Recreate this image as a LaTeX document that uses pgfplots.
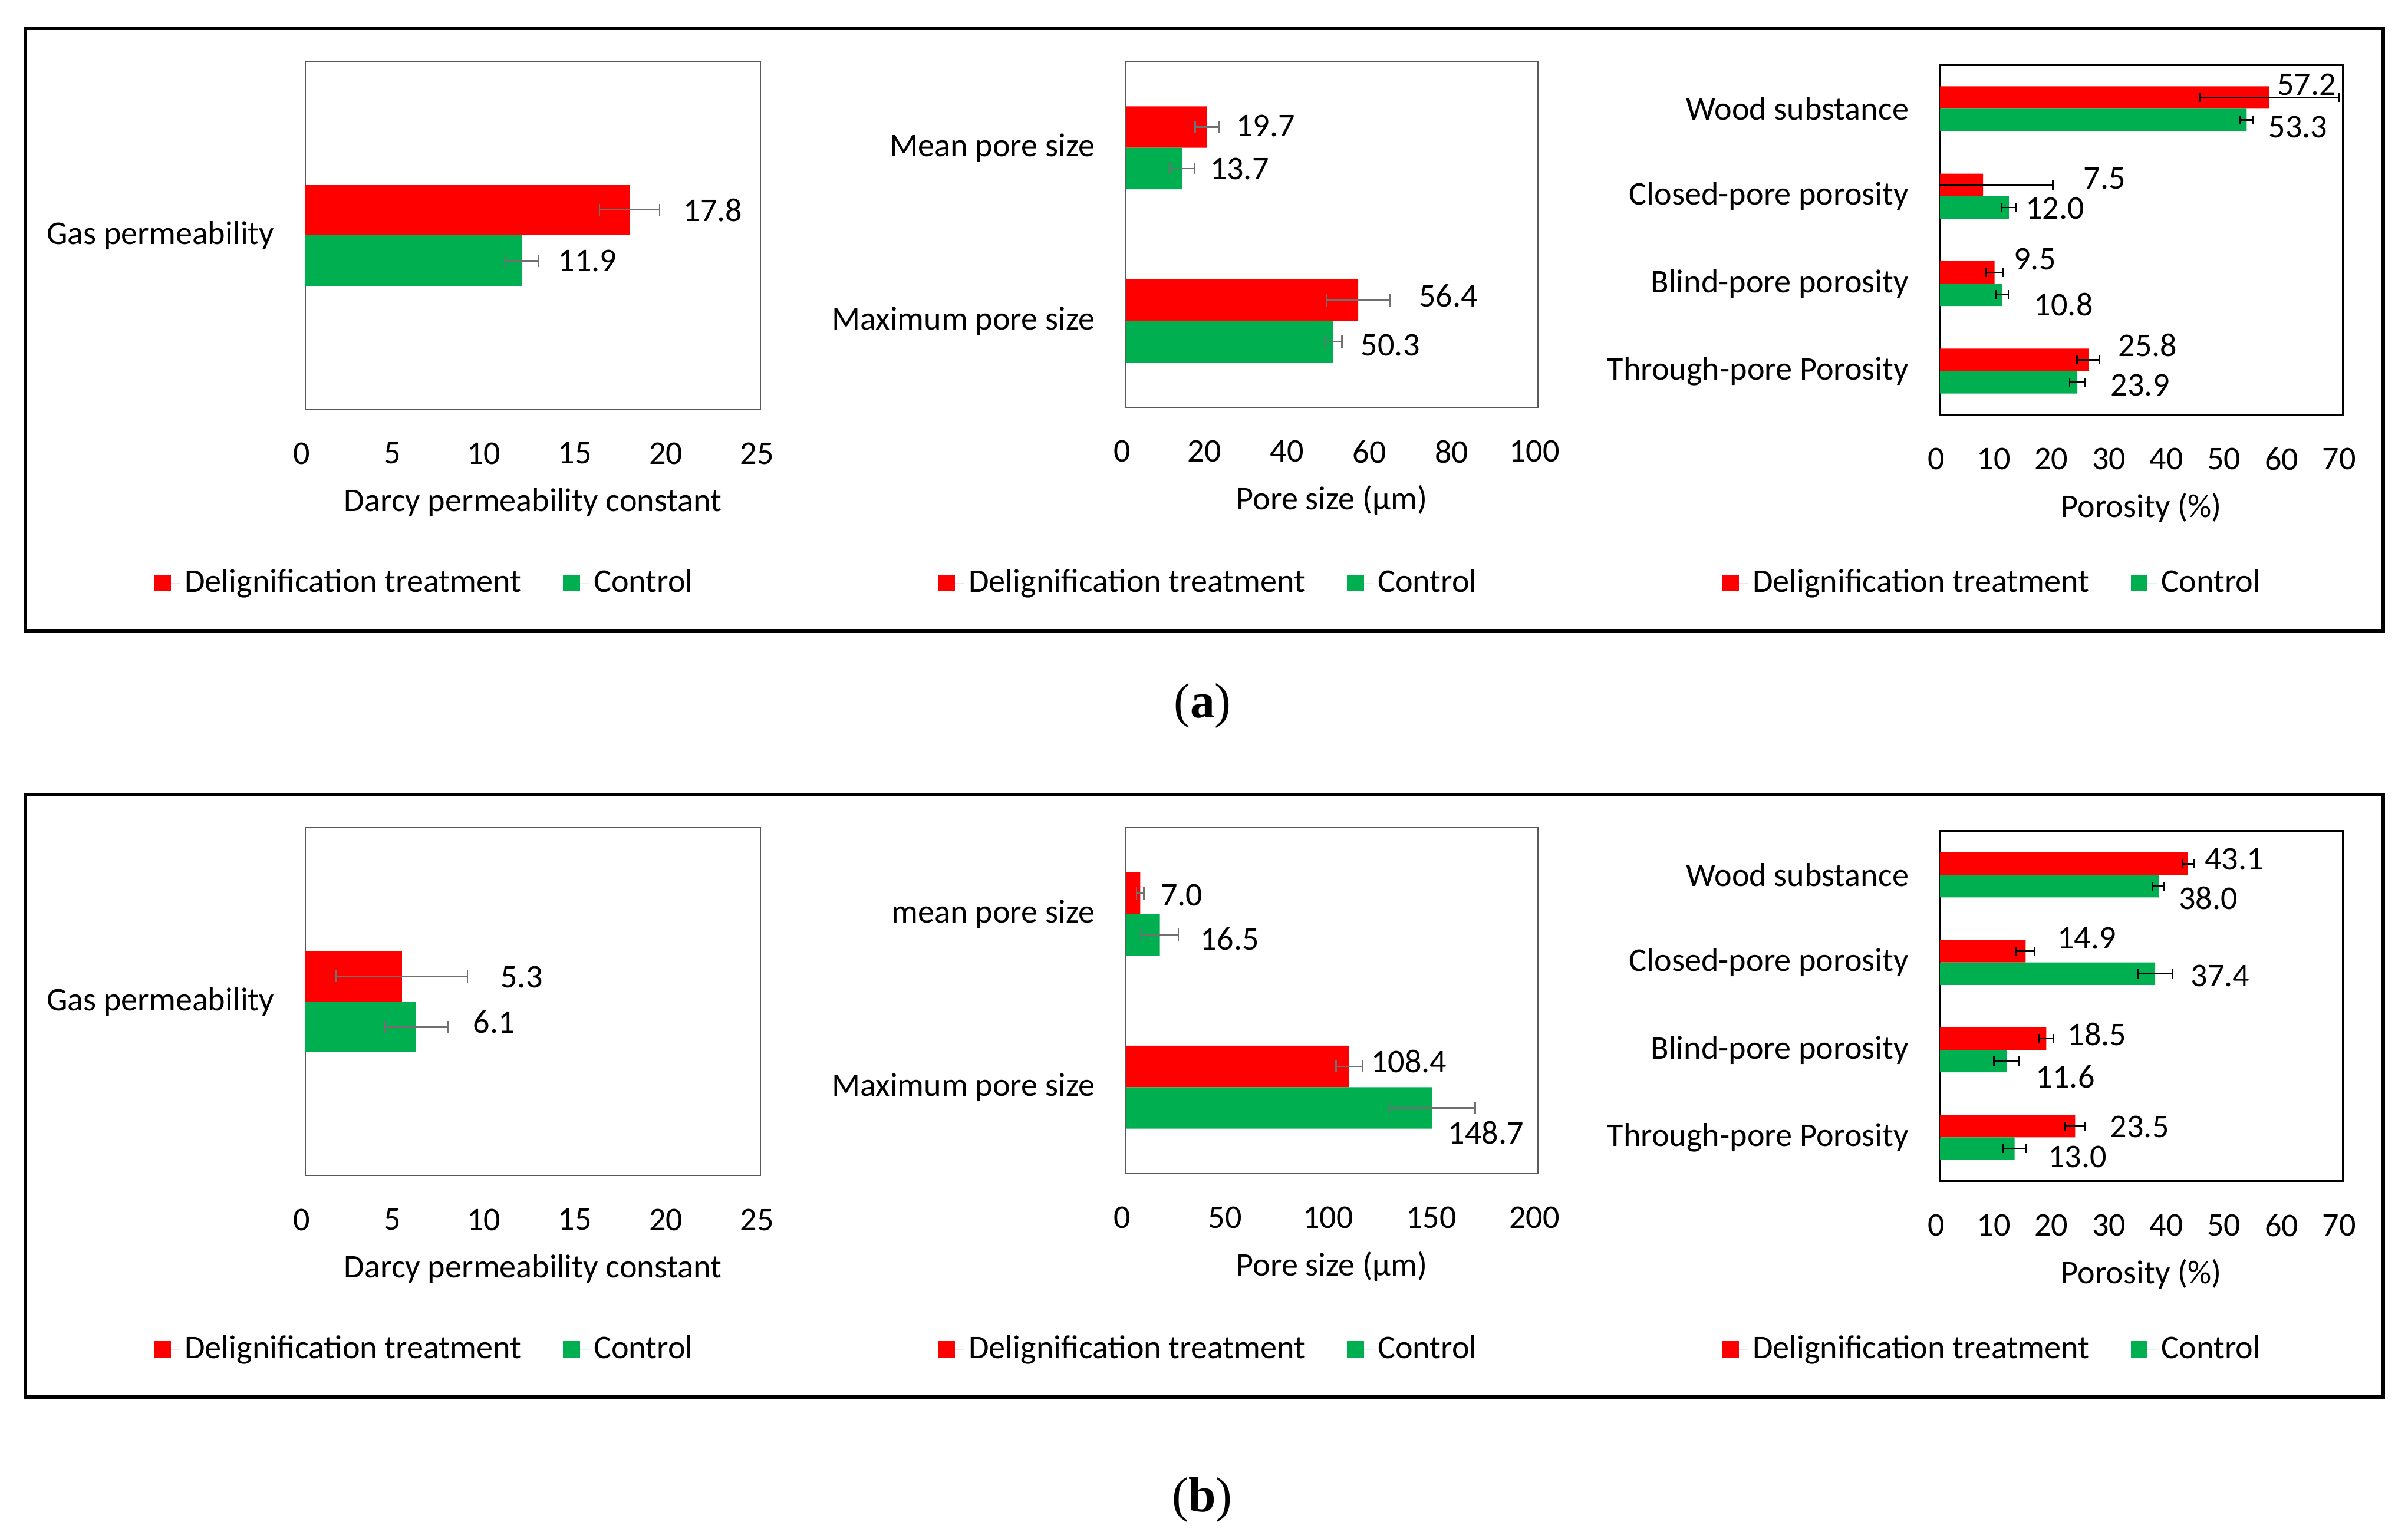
\documentclass[border=0pt]{standalone}
\usepackage{fontspec}
\setmainfont{Carlito}
\newfontfamily\capfont{Liberation Serif}
\usepackage{pgfplots}
\usepackage{pgfplotstable}
\pgfplotsset{compat=1.18}

\definecolor{dred}{HTML}{FF0000}
\definecolor{dgreen}{HTML}{00B050}
\definecolor{boxgray}{HTML}{595959}
\definecolor{errgray}{HTML}{707070}

% yr / yg: bar centre of the treatment / control bar of each category
% ---- row (a) ----
\pgfplotstableread{
yr yg red ered green egreen
0.073 -0.073 17.8 1.65 11.9 0.9
}\gasA
\pgfplotstableread{
lx ly lab
22.38 0.073 17.8
15.49 -0.073 11.9
}\gasAlab
\pgfplotstableread{
yr yg red ered green egreen
1.12 0.88 19.7 2.9 13.7 3.0
0.12 -0.12 56.4 7.7 50.3 2.1
}\poreA
\pgfplotstableread{
lx ly lab
33.9 1.127 19.7
27.6 0.877 13.7
78.3 0.144 56.4
64.2 -0.14 50.3
}\poreAlab
\pgfplotstableread{
yr yg red ered green egreen
3.1285 2.8715 57.2 12.1 53.3 1.1
2.1285 1.8715 7.5 12.1 12.0 1.25
1.1285 0.8715 9.5 1.5 10.8 1.1
0.1285 -0.1285 25.8 1.95 23.9 1.35
}\porosA
\pgfplotstableread{
lx ly lab
63.7 3.278 57.2
62.2 2.79 53.3
28.6 2.204 7.5
20.0 1.859 12.0
16.5 1.28 9.5
21.5 0.759 10.8
36.1 0.298 25.8
34.8 -0.16 23.9
}\porosAlab

% ---- row (b) ----
\pgfplotstableread{
yr yg red ered green egreen
0.073 -0.073 5.3 3.6 6.1 1.75
}\gasB
\pgfplotstableread{
lx ly lab
11.88 0.07 5.3
10.37 -0.058 6.1
}\gasBlab
\pgfplotstableread{
yr yg red ered green egreen
1.12 0.88 7.0 1.8 16.5 9.0
0.12 -0.12 108.4 6.3 148.7 20.8
}\poreB
\pgfplotstableread{
lx ly lab
27.2 1.11 7.0
50.4 0.857 16.5
137.4 0.149 108.4
174.8 -0.262 148.7
}\poreBlab
\pgfplotstableread{
yr yg red ered green egreen
3.1285 2.8715 43.1 1.0 38.0 1.0
2.1285 1.8715 14.9 1.6 37.4 3.0
1.1285 0.8715 18.5 1.25 11.6 2.2
0.1285 -0.1285 23.5 1.7 13.0 2.0
}\porosB
\pgfplotstableread{
lx ly lab
51.1 3.18 43.1
46.6 2.734 38.0
25.5 2.275 14.9
48.7 1.849 37.4
27.3 1.176 18.5
21.8 0.69 11.6
34.7 0.123 23.5
23.9 -0.22 13.0
}\porosBlab

\pgfplotsset{
  hchart/.style={
    scale only axis, anchor=south west, enlargelimits=false,
    xmin=0, ymin=-0.5, major tick length=0pt,
    /pgf/number format/assume math mode=true,
    xticklabel style={yshift=-7pt, xshift=-1.2pt},
    yticklabel style={xshift=-6.3pt},
    xlabel style={at={(axis description cs:0.5,0)}, anchor=center, yshift=-30.2pt},
    legend columns=2, legend cell align=left,
    legend style={draw=none, fill=none, inner xsep=0pt, inner ysep=0pt,
      nodes={inner sep=1.5pt}, at={(axis description cs:0,0)}, anchor=west,
      /tikz/every even column/.append style={column sep=12pt}},
  },
  thinbox/.style={axis line style={draw=boxgray, line width=0.4pt}},
  thickbox/.style={axis line style={draw=black, line width=0.7pt}},
  bars/.style n args={4}{xbar, fill=#1, draw=none, bar width=#2, bar shift=0,
    legend image code/.code={\fill[#1] (0pt,-2.75pt) rectangle (5.5pt,2.75pt);
      \path (0pt,0pt) -- (8.5pt,0pt);},
    /pgfplots/error bars/x dir=both, /pgfplots/error bars/x explicit,
    /pgfplots/error bars/error mark=|,
    /pgfplots/error bars/error bar style={draw=#3, line width=0.5pt},
    /pgfplots/error bars/error mark options={draw=#3, line width=0.5pt, mark size=#4}},
  labs/.style={draw=none, forget plot, nodes near coords, point meta=explicit symbolic,
    every node near coord/.append style={anchor=center, inner sep=0pt}},
}

\begin{document}
\fontsize{10.75}{12.9}\selectfont
\begin{tikzpicture}
\useasboundingbox (0pt,0pt) rectangle (782pt,498.3pt);
\draw[line width=1.2pt] (8.2pt,293.5pt) rectangle (774pt,489.15pt);
\draw[line width=1.2pt] (8.2pt,44.65pt) rectangle (774pt,240.3pt);
\node[anchor=base, font=\capfont\fontsize{16}{19}\selectfont] at (390.5pt,265.3pt) {(\textbf{a})};
\node[anchor=base, font=\capfont\fontsize{16}{19}\selectfont] at (390.4pt,7.3pt) {(\textbf{b})};

% (a) gas permeability
\begin{axis}[hchart, thinbox, at={(99.15pt,365.35pt)}, width=147.85pt, height=113.05pt,
  xmax=25, xtick={0,5,...,25}, ymax=0.5, ytick={0}, yticklabels={Gas permeability},
  xlabel={Darcy permeability constant},
  legend style={xshift=-49.35pt, yshift=-56.4pt}]
\addplot[bars={dred}{0.146}{errgray}{2pt}] table[x=red, y=yr, x error=ered] \gasA;
\addlegendentry{Delignification treatment}
\addplot[bars={dgreen}{0.146}{errgray}{2pt}] table[x=green, y=yg, x error=egreen] \gasA;
\addlegendentry{Control}
\addplot[labs] table[x=lx, y=ly, meta=lab] \gasAlab;
\end{axis}

% (a) pore size
\begin{axis}[hchart, thinbox, at={(365.6pt,366.0pt)}, width=133.85pt, height=112.4pt,
  xmax=100, xtick={0,20,...,100}, ymax=1.5, ytick={0,1},
  yticklabels={Maximum pore size, Mean pore size},
  xlabel={Pore size (µm)},
  legend style={xshift=-61.2pt, yshift=-57.05pt}]
\addplot[bars={dred}{0.24}{errgray}{2pt}] table[x=red, y=yr, x error=ered] \poreA;
\addlegendentry{Delignification treatment}
\addplot[bars={dgreen}{0.24}{errgray}{2pt}] table[x=green, y=yg, x error=egreen] \poreA;
\addlegendentry{Control}
\addplot[labs] table[x=lx, y=ly, meta=lab] \poreAlab;
\end{axis}

% (a) porosity
\begin{axis}[hchart, thickbox, at={(629.95pt,363.6pt)}, width=130.9pt, height=113.6pt,
  xmax=70, xtick={0,10,...,70}, ymax=3.5, ytick={0,1,2,3},
  yticklabels={Through-pore Porosity, Blind-pore porosity, Closed-pore porosity, Wood substance},
  xlabel={Porosity (\%)},
  legend style={xshift=-71pt, yshift=-54.65pt}]
\addplot[bars={dred}{0.257}{black}{1.5pt}] table[x=red, y=yr, x error=ered] \porosA;
\addlegendentry{Delignification treatment}
\addplot[bars={dgreen}{0.257}{black}{1.5pt}] table[x=green, y=yg, x error=egreen] \porosA;
\addlegendentry{Control}
\addplot[labs] table[x=lx, y=ly, meta=lab] \porosAlab;
\end{axis}

% (b) gas permeability
\begin{axis}[hchart, thinbox, at={(99.15pt,116.5pt)}, width=147.85pt, height=113.05pt,
  xmax=25, xtick={0,5,...,25}, ymax=0.5, ytick={0}, yticklabels={Gas permeability},
  xlabel={Darcy permeability constant},
  legend style={xshift=-49.35pt, yshift=-56.4pt}]
\addplot[bars={dred}{0.146}{errgray}{2pt}] table[x=red, y=yr, x error=ered] \gasB;
\addlegendentry{Delignification treatment}
\addplot[bars={dgreen}{0.146}{errgray}{2pt}] table[x=green, y=yg, x error=egreen] \gasB;
\addlegendentry{Control}
\addplot[labs] table[x=lx, y=ly, meta=lab] \gasBlab;
\end{axis}

% (b) pore size
\begin{axis}[hchart, thinbox, at={(365.6pt,117.15pt)}, width=133.85pt, height=112.4pt,
  xmax=200, xtick={0,50,...,200}, ymax=1.5, ytick={0,1},
  yticklabels={Maximum pore size, mean pore size},
  xlabel={Pore size (µm)},
  legend style={xshift=-61.2pt, yshift=-57.05pt}]
\addplot[bars={dred}{0.24}{errgray}{2pt}] table[x=red, y=yr, x error=ered] \poreB;
\addlegendentry{Delignification treatment}
\addplot[bars={dgreen}{0.24}{errgray}{2pt}] table[x=green, y=yg, x error=egreen] \poreB;
\addlegendentry{Control}
\addplot[labs] table[x=lx, y=ly, meta=lab] \poreBlab;
\end{axis}

% (b) porosity
\begin{axis}[hchart, thickbox, at={(629.95pt,114.75pt)}, width=130.9pt, height=113.6pt,
  xmax=70, xtick={0,10,...,70}, ymax=3.5, ytick={0,1,2,3},
  yticklabels={Through-pore Porosity, Blind-pore porosity, Closed-pore porosity, Wood substance},
  xlabel={Porosity (\%)},
  legend style={xshift=-71pt, yshift=-54.65pt}]
\addplot[bars={dred}{0.257}{black}{1.5pt}] table[x=red, y=yr, x error=ered] \porosB;
\addlegendentry{Delignification treatment}
\addplot[bars={dgreen}{0.257}{black}{1.5pt}] table[x=green, y=yg, x error=egreen] \porosB;
\addlegendentry{Control}
\addplot[labs] table[x=lx, y=ly, meta=lab] \porosBlab;
\end{axis}
\end{tikzpicture}
\end{document}
